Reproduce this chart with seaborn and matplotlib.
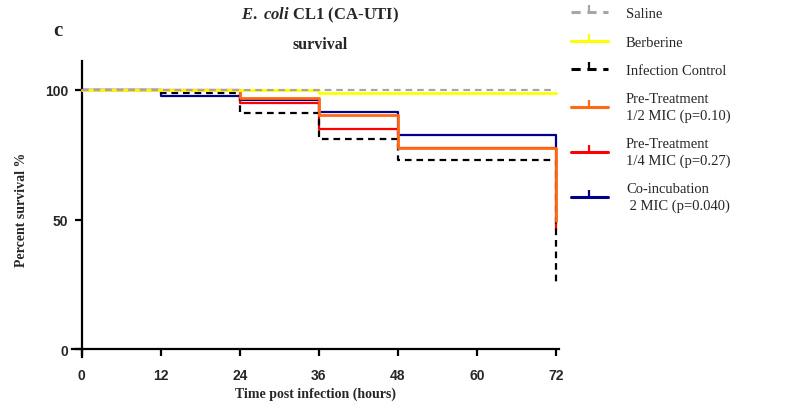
import matplotlib
matplotlib.use("Agg")
import matplotlib.pyplot as plt
from matplotlib.lines import Line2D
import seaborn as sns
import pandas as pd

sns.set_theme(style="white")
plt.rcParams["font.family"] = ["Liberation Serif", "DejaVu Serif"]
plt.rcParams["mathtext.fontset"] = "custom"
plt.rcParams["mathtext.it"] = "Liberation Serif:italic:bold"
plt.rcParams["mathtext.rm"] = "Liberation Serif:bold"

# Kaplan-Meier survival (%) at each observation time (hours)
times = [0, 12, 24, 36, 48, 72]
saline = [100, 100, 100, 100, 100, 100]
berberine = [100, 100, 100, 98.75, 98.75, 98.75]
infection_control = [100, 98.75, 91.25, 81.0, 73.0, 24.5]
pre_half_mic = [100, 100, 96.9, 90.5, 77.5, 49.5]
pre_quarter_mic = [100, 100, 95.0, 85.0, 77.5, 46.0]
co_incubation = [100, 97.5, 96.0, 91.5, 82.5, 77.5]

labels = ["Saline", "Berberine", "Infection Control",
          "Pre-Treatment\n1/2 MIC (p=0.10)",
          "Pre-Treatment\n1/4 MIC (p=0.27)",
          "Co-incubation\n 2 MIC (p=0.040)"]
xticks = [0, 12, 24, 36, 48, 60, 72]
yticks = [0, 50, 100]

series = {
    "Saline": (saline, "#a6a6a6", (0, (3, 2.2)), 1.6),
    "Berberine": (berberine, "#ffff00", "-", 2.0),
    "Infection Control": (infection_control, "#000000", (0, (3, 2.2)), 1.6),
    "Pre-Treatment\n1/2 MIC (p=0.10)": (pre_half_mic, "#ff6a13", "-", 2.0),
    "Pre-Treatment\n1/4 MIC (p=0.27)": (pre_quarter_mic, "#ff0000", "-", 1.6),
    "Co-incubation\n 2 MIC (p=0.040)": (co_incubation, "#00008b", "-", 1.6),
}
draw_order = ["Co-incubation\n 2 MIC (p=0.040)", "Pre-Treatment\n1/4 MIC (p=0.27)",
              "Infection Control", "Pre-Treatment\n1/2 MIC (p=0.10)",
              "Berberine", "Saline"]

fig = plt.figure(figsize=(7.92, 4.10), dpi=100)
ax = fig.add_axes([0.0909, 0.1273, 0.6153, 0.7203])

for i, name in enumerate(draw_order):
    vals, color, ls, lw = series[name]
    df = pd.DataFrame({"t": times, "s": vals})
    sns.lineplot(data=df, x="t", y="s", ax=ax, color=color, linestyle=ls,
                 linewidth=lw, drawstyle="steps-post", zorder=2 + i,
                 estimator=None, legend=False)

ax.set_xlim(-1.5, 72.5)
ax.set_ylim(-3, 111)
ax.spines["bottom"].set_position(("data", 0))
ax.spines["left"].set_position(("data", 0))
for s in ["top", "right"]:
    ax.spines[s].set_visible(False)
for s in ["bottom", "left"]:
    ax.spines[s].set_linewidth(1.6)
    ax.spines[s].set_color("black")
ax.set_xticks(xticks)
ax.set_yticks(yticks)
ax.tick_params(axis="both", direction="out", length=5, width=1.6,
               color="black", pad=3, labelsize=10, bottom=True, left=True)
for lab in ax.get_xticklabels() + ax.get_yticklabels():
    lab.set_fontfamily("Liberation Sans")
    lab.set_fontweight("bold")
ax.tick_params(axis="x", pad=9)
ax.tick_params(axis="y", pad=5)
ax.set_xlabel("Time post infection (hours)", fontsize=10, fontweight="bold")
ax.set_ylabel("Percent survival %", fontsize=10, fontweight="bold")
ax.xaxis.set_label_coords(0.5, -0.10)
ax.yaxis.set_label_coords(-0.09, 0.5)
ax.grid(False)

fig.text(0.404, 0.962, r"$\it{E.\ coli}$ CL1 (CA-UTI)", ha="center",
         va="center", fontsize=12, fontweight="bold")
fig.text(0.404, 0.89, "survival", ha="center", va="center", fontsize=11.5,
         fontweight="bold")
fig.text(0.073, 0.925, "c", ha="center", va="center", fontsize=15,
         fontweight="bold")

handles = []
for name in labels:
    vals, color, ls, lw = series[name]
    handles.append(Line2D([0], [0], color=color, linestyle=ls, linewidth=2.2,
                          marker=2, markersize=5, markeredgewidth=1.6,
                          markeredgecolor=color))
leg = fig.legend(handles, labels, loc="upper left",
                 bbox_to_anchor=(0.713, 0.995), frameon=False, fontsize=10.5,
                 handlelength=2.6, handletextpad=1.2, labelspacing=1.05,
                 numpoints=1, borderaxespad=0)
for t in leg.get_texts():
    t.set_linespacing(1.3)

fig.savefig("out.png", dpi=100)
